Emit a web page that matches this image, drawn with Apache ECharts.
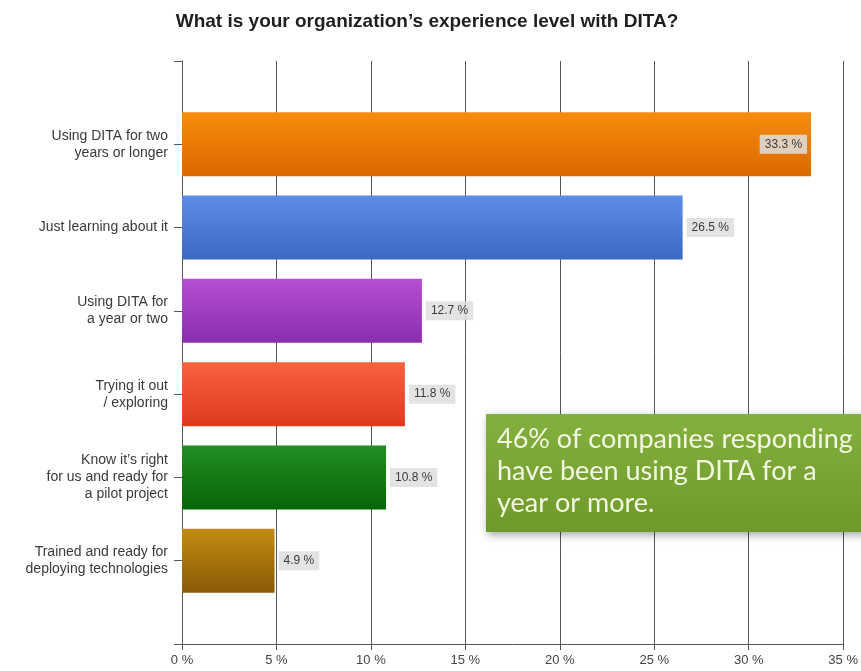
<!DOCTYPE html>
<html>
<head>
<meta charset="utf-8">
<style>
  html, body { margin: 0; padding: 0; background: #ffffff; }
  #chart { width: 861px; height: 671px; }
</style>
<script src="https://cdn.jsdelivr.net/npm/echarts@6/dist/echarts.min.js"></script>
</head>
<body>
<div id="chart"></div>
<script>
// Survey answers, top to bottom
const categories = [
  'Using DITA for two\nyears or longer',
  'Just learning about it',
  'Using DITA for\na year or two',
  'Trying it out\n/ exploring',
  'Know it\u2019s right\nfor us and ready for\na pilot project',
  'Trained and ready for\ndeploying technologies'
];
// Share of respondents, percent
const values = [33.3, 26.5, 12.7, 11.8, 10.8, 4.9];
// Bar gradients: [top colour, bottom colour]
const barColors = [
  ['#f78d0c', '#db6800'],
  ['#5f8ce9', '#3a68c4'],
  ['#b64ed4', '#8a2daf'],
  ['#f8623f', '#de3a1c'],
  ['#238e23', '#076507'],
  ['#c28c12', '#8a5a06']
];
const xTicks = [0, 5, 10, 15, 20, 25, 30, 35];
const note = '46% of companies responding\nhave been using DITA for a\nyear or more.';

// Blank slots above and below keep a half-gap of empty axis at both ends
const yData = [''].concat(categories, ['']);
const barData = [null].concat(values.map(function (v, i) {
  return {
    value: v,
    itemStyle: {
      color: new echarts.graphic.LinearGradient(0, 0, 0, 1, [
        { offset: 0, color: barColors[i][0] },
        { offset: 1, color: barColors[i][1] }
      ])
    },
    label: { position: i === 0 ? 'insideRight' : 'right' }
  };
}), [null]);

const chart = echarts.init(document.getElementById('chart'), null, { renderer: 'canvas' });
chart.setOption({
  animation: false,
  backgroundColor: '#ffffff',
  title: {
    text: 'What is your organization\u2019s experience level with DITA?',
    left: 422,
    textAlign: 'center',
    top: 7,
    textStyle: { fontFamily: 'Liberation Sans, Arial, sans-serif', fontSize: 19, fontWeight: 'bold', color: '#1e1e1e' }
  },
  grid: { left: 182, right: 15, top: 61, bottom: 27, containLabel: false },
  xAxis: {
    type: 'value',
    min: xTicks[0],
    max: xTicks[xTicks.length - 1],
    interval: 5,
    axisLine: { show: true, lineStyle: { color: '#555', width: 1 } },
    axisTick: { show: true, length: 6, lineStyle: { color: '#555' } },
    splitLine: { show: true, lineStyle: { color: '#555', width: 1 } },
    axisLabel: {
      margin: 10,
      fontFamily: 'Liberation Sans, Arial, sans-serif',
      fontSize: 13,
      color: '#444',
      formatter: function (v) { return v + ' %'; }
    }
  },
  yAxis: {
    type: 'category',
    inverse: true,
    boundaryGap: false,
    data: yData,
    axisLine: { show: true, lineStyle: { color: '#555', width: 1 } },
    axisTick: { show: true, length: 8, lineStyle: { color: '#555' } },
    axisLabel: {
      margin: 14,
      fontFamily: 'Liberation Sans, Arial, sans-serif',
      fontSize: 14,
      lineHeight: 17,
      color: '#3a3a3a',
      align: 'right'
    }
  },
  series: [{
    type: 'bar',
    data: barData,
    barWidth: 64,
    label: {
      show: true,
      formatter: function (p) { return p.value.toFixed(1) + ' %'; },
      fontFamily: 'Liberation Sans, Arial, sans-serif',
      fontSize: 12,
      color: '#3c3c3c',
      backgroundColor: 'rgba(222,222,222,0.85)',
      padding: [4, 5, 3, 5],
      distance: 4
    }
  }],
  graphic: [{
    type: 'group',
    left: 486,
    top: 414,
    z: 100,
    children: [{
      type: 'rect',
      z: 100,
      shape: { x: 0, y: 0, width: 380, height: 118 },
      style: {
        fill: new echarts.graphic.LinearGradient(0, 0, 0, 1, [
          { offset: 0, color: '#84b03e' },
          { offset: 1, color: '#6f9a2b' }
        ]),
        shadowBlur: 8,
        shadowOffsetX: 2,
        shadowOffsetY: 3,
        shadowColor: 'rgba(0,0,0,0.35)'
      }
    }, {
      type: 'text',
      z: 101,
      x: 11,
      y: 9,
      style: {
        text: note,
        fontFamily: 'Lato, Open Sans, sans-serif',
        fontSize: 27,
        lineHeight: 32,
        fill: '#f2f7e2'
      }
    }]
  }]
});
</script>
</body>
</html>
